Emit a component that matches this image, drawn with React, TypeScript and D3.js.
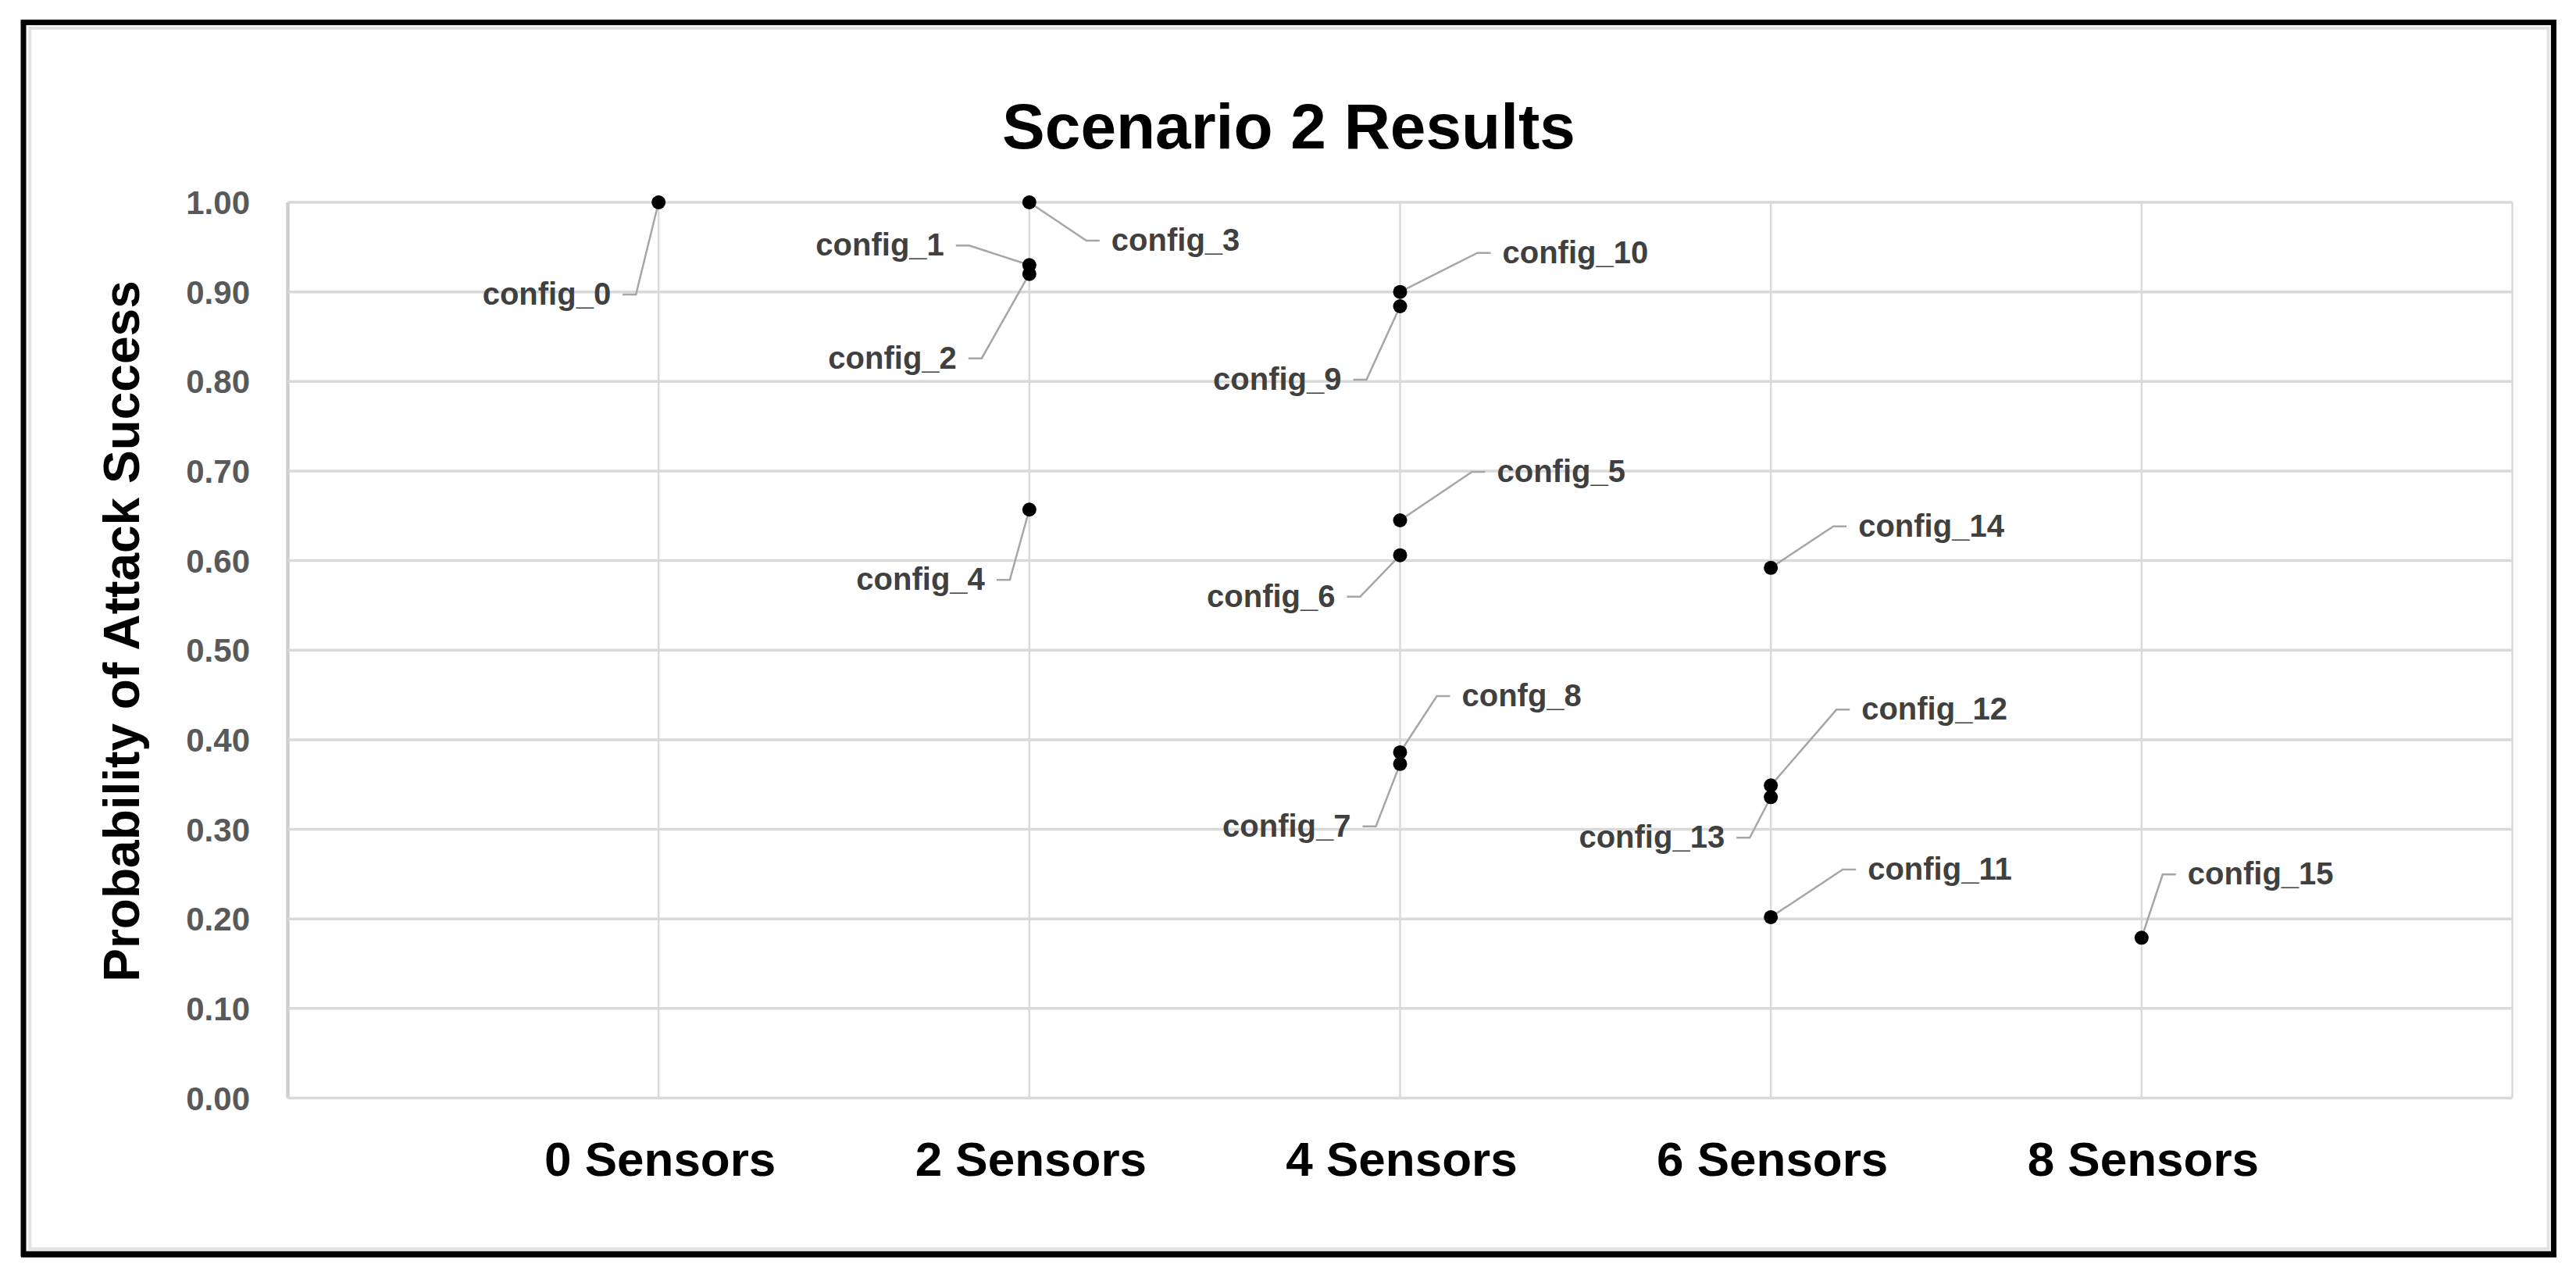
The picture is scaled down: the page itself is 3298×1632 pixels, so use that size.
import React from "react";
import * as d3 from "d3";

// ---------- data ----------
const sensorCategories = ["0 Sensors", "2 Sensors", "4 Sensors", "6 Sensors", "8 Sensors"];
const configNames = [
  "config_0", "config_1", "config_2", "config_3", "config_4", "config_5", "config_6", "config_7",
  "confg_8", "config_9", "config_10", "config_11", "config_12", "config_13", "config_14", "config_15",
];
const configCategoryIndex = [0, 1, 1, 1, 1, 2, 2, 2, 2, 2, 2, 3, 3, 3, 3, 4];
const attackSuccess = [
  1.0, 0.93, 0.92, 1.0, 0.657, 0.645, 0.606, 0.373, 0.386, 0.884, 0.9, 0.202, 0.349, 0.336, 0.592, 0.179,
];
const yTicks = [0, 0.1, 0.2, 0.3, 0.4, 0.5, 0.6, 0.7, 0.8, 0.9, 1.0];
const xGridValues = [0, 1, 2, 3, 4, 5, 6];

// label placement (layout only): side, offset of text edge from point, offset of leader tick from point
const labelSide = ["L", "L", "L", "R", "L", "R", "L", "L", "R", "L", "R", "R", "R", "L", "R", "R"];
const labelDx = [-61, -109, -93, 105, -57, 124, -83, -63, 79, -75, 131, 124, 116, -59, 112, 59];
const labelDy = [118, -25, 108, 49, 90, -62, 53, 80, -72, 94, -50, -61, -97, 52, -53, -81];

// ---------- layout ----------
const W = 3298;
const H = 1632;
const FONT = "'Liberation Sans', Arial, Helvetica, sans-serif";
const plotLeft = 368.5;
const plotRight = 3216.5;
const plotTop = 259;
const plotBottom = 1405.5;

export default function App() {
  const x = d3.scaleLinear().domain([0, 6]).range([plotLeft, plotRight]);
  const y = d3.scaleLinear().domain([0, 1]).range([plotBottom, plotTop]);
  const fmt = d3.format(".2f");

  const points = attackSuccess.map((v, i) => ({
    name: configNames[i],
    px: x(configCategoryIndex[i] + 1),
    py: y(v),
    side: labelSide[i],
    dx: labelDx[i],
    dy: labelDy[i],
  }));

  return (
    <svg
      width={W}
      height={H}
      viewBox={`0 0 ${W} ${H}`}
      style={{ position: "absolute", left: 0, top: 0, display: "block", background: "#fff" }}
    >
      <rect x={0} y={0} width={W} height={H} fill="#fff" />
      {/* frame */}
      <rect x={38.3} y={36} width={3262.5 - 38.3} height={1598.4 - 36} fill="none" stroke="#e2e2e2" strokeWidth={4} />
      <rect x={30} y={28.7} width={3269.4 - 30} height={1605 - 28.7} fill="none" stroke="#000" strokeWidth={7} />
      <line x1={27} x2={3273} y1={1607.5} y2={1607.5} stroke="#000" strokeWidth={4} />

      {/* title */}
      <text x={1650} y={190} textAnchor="middle" fontFamily={FONT} fontWeight="bold" fontSize={82} fill="#000">
        Scenario 2 Results
      </text>

      {/* vertical gridlines */}
      {xGridValues.map((v) => (
        <line
          key={"vx" + v}
          x1={x(v)}
          x2={x(v)}
          y1={plotTop}
          y2={plotBottom}
          stroke={v === 0 ? "#cfcfcf" : "#d9d9d9"}
          strokeWidth={v === 0 ? 4.5 : 2.5}
        />
      ))}
      {/* horizontal gridlines */}
      {yTicks.map((v) => (
        <line
          key={"hy" + v}
          x1={plotLeft}
          x2={plotRight}
          y1={y(v)}
          y2={y(v)}
          stroke="#d9d9d9"
          strokeWidth={3.5}
        />
      ))}

      {/* y tick labels */}
      {yTicks.map((v) => (
        <text
          key={"yt" + v}
          x={320}
          y={y(v) + 15}
          textAnchor="end"
          fontFamily={FONT}
          fontWeight="bold"
          fontSize={42}
          fill="#595959"
        >
          {fmt(v)}
        </text>
      ))}

      {/* y axis title */}
      <text
        transform={`translate(178, 808) rotate(-90)`}
        textAnchor="middle"
        fontFamily={FONT}
        fontWeight="bold"
        fontSize={64}
        fill="#000"
      >
        Probability of Attack Success
      </text>

      {/* x category labels */}
      {sensorCategories.map((c, i) => (
        <text
          key={c}
          x={x(i + 1) + 2}
          y={1505}
          textAnchor="middle"
          fontFamily={FONT}
          fontWeight="bold"
          fontSize={62}
          fill="#000"
        >
          {c}
        </text>
      ))}

      {/* leader lines */}
      {points.map((p) => {
        const edge = p.px + p.dx;
        const ty = p.py + p.dy;
        const near = p.side === "L" ? edge + 15 : edge - 15;
        const far = p.side === "L" ? edge + 32 : edge - 32;
        const path = d3.path();
        path.moveTo(p.px, p.py);
        path.lineTo(far, ty);
        path.lineTo(near, ty);
        return (
          <path
            key={"ld" + p.name}
            d={path.toString()}
            fill="none"
            stroke="#a6a6a6"
            strokeWidth={2.5}
          />
        );
      })}

      {/* markers */}
      {points.map((p) => (
        <circle key={"pt" + p.name} cx={p.px} cy={p.py} r={9} fill="#000" />
      ))}

      {/* data labels */}
      {points.map((p) => (
        <text
          key={"lb" + p.name}
          x={p.px + p.dx}
          y={p.py + p.dy + 13}
          textAnchor={p.side === "L" ? "end" : "start"}
          fontFamily={FONT}
          fontWeight="bold"
          fontSize={40}
          fill="#404040"
        >
          {p.name}
        </text>
      ))}
    </svg>
  );
}
